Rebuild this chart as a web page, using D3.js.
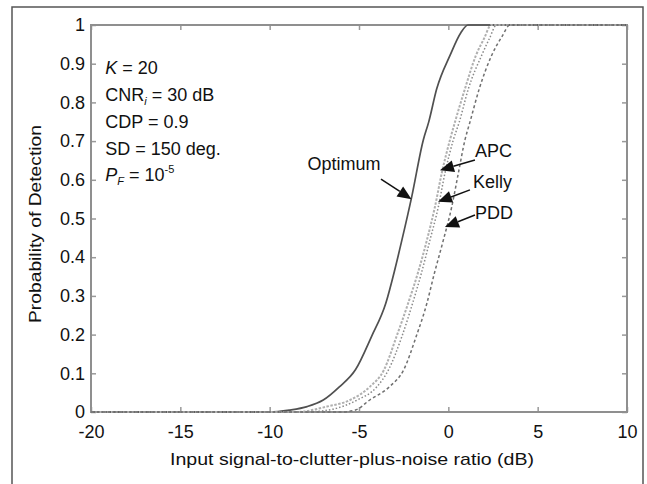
<!DOCTYPE html>
<html>
<head>
<meta charset="utf-8">
<script src="https://cdn.jsdelivr.net/npm/d3@7"></script>
<style>
  body { margin: 0; background: #fff; }
  text { font-family: "Liberation Sans", Arial, sans-serif; fill: #111; }
</style>
</head>
<body>
<div id="chart"></div>
<script>
/*******************************/
/*    Data   */
/*******************************/
const xTicks = [-20, -15, -10, -5, 0, 5, 10];
const yTicks = [0, 0.1, 0.2, 0.3, 0.4, 0.5, 0.6, 0.7, 0.8, 0.9, 1];

const optimumX = [-20, -10, -8.9, -7.9, -7.0, -6.1, -5.2, -4.3, -3.5, -3.0, -2.6, -2.05, -1.4, -1.1, -0.65, 0.1, 0.7, 1.1, 10];
const optimumP = [0, 0, 0.005, 0.014, 0.031, 0.065, 0.109, 0.195, 0.281, 0.367, 0.444, 0.556, 0.703, 0.749, 0.835, 0.922, 0.98, 1, 1];

const apcX = [-20, -8.5, -6.8, -5.5, -4.4, -3.6, -2.9, -2.25, -1.7, -1.2, -0.75, -0.37, 0.09, 0.37, 0.93, 1.55, 2.0, 2.4, 10];
const apcP = [0, 0, 0.014, 0.031, 0.065, 0.109, 0.195, 0.281, 0.36, 0.444, 0.53, 0.617, 0.703, 0.749, 0.835, 0.922, 0.965, 1, 1];

const kellyX = [-20, -8, -6.5, -5.1, -4.0, -3.35, -2.6, -2.0, -1.5, -1.03, -0.56, -0.19, 0.28, 0.61, 1.12, 1.87, 2.3, 2.7, 10];
const kellyP = [0, 0, 0.007, 0.031, 0.065, 0.109, 0.195, 0.281, 0.36, 0.444, 0.53, 0.617, 0.703, 0.749, 0.835, 0.922, 0.965, 1, 1];

const pddX = [-20, -6, -5.2, -4.4, -3.3, -2.5, -1.8, -1.2, -0.8, -0.28, 0.19, 0.56, 0.93, 1.21, 1.73, 2.43, 3.0, 3.45, 10];
const pddP = [0, 0, 0.005, 0.031, 0.065, 0.109, 0.195, 0.281, 0.355, 0.444, 0.53, 0.617, 0.703, 0.749, 0.835, 0.922, 0.97, 1, 1];

// arrow annotations (tip = point on curve, tail = end near label, in data units)
const arrowLabels = ["Optimum", "APC", "Kelly", "PDD"];
const arrowTipX = [-2.06, -0.47, -0.58, -0.19];
const arrowTipP = [0.55, 0.625, 0.543, 0.478];
const arrowTailX = [-3.77, 1.49, 1.21, 1.49];
const arrowTailP = [0.602, 0.651, 0.574, 0.509];
const labelX = [-3.8, 1.49, 1.38, 1.49];
const labelP = [0.625, 0.659, 0.579, 0.499];

// parameter block: [text, kind]
const paramLines = [
  [["K", "it"], [" = 20", ""]],
  [["CNR", ""], ["i", "sub"], [" = 30 dB", ""]],
  [["CDP = 0.9", ""]],
  [["SD = 150 deg.", ""]],
  [["P", "it"], ["F", "sub"], [" = 10", ""], ["-5", "sup"]]
];

/*******************************/
/*    Declare the constants    */
/*******************************/
const margin = {top: 25, right: 20, bottom: 72, left: 91};
const width = 647;
const height = 484;
const innerWidth = width - margin.left - margin.right;
const innerHeight = height - margin.top - margin.bottom;

/*******************************/
/*    Append the containers    */
/*******************************/
const svg = d3.select("#chart")
  .append("svg")
    .attr("width", width)
    .attr("height", height);

// outer figure frame: left, top and right sides, open where the picture ends
svg.append("path")
  .attr("d", `M12,${height} V7 H643 V${height}`)
  .attr("fill", "none")
  .attr("stroke", "#555")
  .attr("stroke-width", 1.5);

const innerChart = svg.append("g")
  .attr("transform", `translate(${margin.left}, ${margin.top})`);

/*********************************/
/*    Declare scales             */
/*********************************/
// page-coordinate scales so every mark and note lands at the same spot
const xScale = d3.scaleLinear()
  .domain([-20, 10])
  .range([margin.left, margin.left + innerWidth]);

const yScale = d3.scaleLinear()
  .domain([0, 1])
  .range([margin.top + innerHeight, margin.top]);

// scales local to the inner chart, for the axes
const xAxisScale = xScale.copy().range([0, innerWidth]);
const yAxisScale = yScale.copy().range([innerHeight, 0]);

/*********************************/
/*    Append Axes                */
/*********************************/
const tickFmt = d => String(d);

const bottomAxis = d3.axisBottom(xAxisScale)
  .tickValues(xTicks)
  .tickFormat(tickFmt)
  .tickSizeInner(-5)
  .tickSizeOuter(0)
  .tickPadding(13);
const gx = innerChart.append("g")
  .attr("transform", `translate(0, ${innerHeight})`)
  .call(bottomAxis);

const topAxis = d3.axisTop(xAxisScale)
  .tickValues(xTicks)
  .tickFormat("")
  .tickSizeInner(-5)
  .tickSizeOuter(0);
const gxt = innerChart.append("g").call(topAxis);

const leftAxis = d3.axisLeft(yAxisScale)
  .tickValues(yTicks)
  .tickFormat(tickFmt)
  .tickSizeInner(-5)
  .tickSizeOuter(0)
  .tickPadding(6);
const gy = innerChart.append("g").call(leftAxis);

const rightAxis = d3.axisRight(yAxisScale)
  .tickValues(yTicks)
  .tickFormat("")
  .tickSizeInner(-5)
  .tickSizeOuter(0);
const gyr = innerChart.append("g")
  .attr("transform", `translate(${innerWidth}, 0)`)
  .call(rightAxis);

[gx, gxt, gy, gyr].forEach(g => {
  g.attr("font-size", 18).attr("font-family", "Liberation Sans, Arial, sans-serif");
  g.select(".domain").remove();
  g.selectAll(".tick line").attr("stroke", "#999").attr("stroke-width", 1.5);
  g.selectAll(".tick text").attr("fill", "#111");
});

// plot box
innerChart.append("rect")
  .attr("width", innerWidth)
  .attr("height", innerHeight)
  .attr("fill", "none")
  .attr("stroke", "#8f8f8f")
  .attr("stroke-width", 2);

/*********************************/
/*    Curves                     */
/*********************************/
const series = [
  {id: "Optimum", x: optimumX, p: optimumP},
  {id: "APC", x: apcX, p: apcP},
  {id: "Kelly", x: kellyX, p: kellyP},
  {id: "PDD", x: pddX, p: pddP}
];
const lineStyles = {
  Optimum: {stroke: "#505050", width: 1.7, dash: null},
  APC: {stroke: "#b0b0b0", width: 2, dash: "2.5,1.5"},
  Kelly: {stroke: "#8a8a8a", width: 1.5, dash: "1.5,2"},
  PDD: {stroke: "#707070", width: 1.5, dash: "3,2.5"}
};

const lineGen = d3.line()
  .x(d => xScale(d[0]))
  .y(d => yScale(d[1]))
  .curve(d3.curveMonotoneX);

series.forEach(s => {
  const pts = s.x.map((x, i) => [x, s.p[i]]);
  const st = lineStyles[s.id];
  svg.append("path")
    .datum(pts)
    .attr("d", lineGen)
    .attr("fill", "none")
    .attr("stroke", st.stroke)
    .attr("stroke-width", st.width)
    .attr("stroke-dasharray", st.dash);
});

/*********************************/
/*    Arrow annotations          */
/*********************************/
arrowLabels.forEach((label, i) => {
  const tx = xScale(arrowTipX[i]), ty = yScale(arrowTipP[i]);
  const sx = xScale(arrowTailX[i]), sy = yScale(arrowTailP[i]);
  const len = Math.hypot(tx - sx, ty - sy);
  const ux = (tx - sx) / len, uy = (ty - sy) / len;
  const headLen = 14, headHalf = 6;
  const bx = tx - ux * headLen, by = ty - uy * headLen;

  svg.append("line")
    .attr("x1", sx).attr("y1", sy)
    .attr("x2", bx).attr("y2", by)
    .attr("stroke", "#111")
    .attr("stroke-width", 1.5);

  svg.append("polygon")
    .attr("points", [
      [tx, ty],
      [bx - uy * headHalf, by + ux * headHalf],
      [bx + uy * headHalf, by - ux * headHalf]
    ].map(p => p.join(",")).join(" "))
    .attr("fill", "#111");

  svg.append("text")
    .attr("x", xScale(labelX[i]))
    .attr("y", yScale(labelP[i]))
    .attr("text-anchor", i === 0 ? "end" : "start")
    .attr("font-size", 18)
    .text(label);
});

/*********************************/
/*    Parameter block            */
/*********************************/
const paramX = xScale(-19.2);
const paramY0 = yScale(0.873);
const lineStep = 26.8;

paramLines.forEach((segs, i) => {
  const t = svg.append("text")
    .attr("x", paramX)
    .attr("y", paramY0 + i * lineStep)
    .attr("font-size", 18);
  let shift = 0;
  segs.forEach(([str, kind]) => {
    const ts = t.append("tspan").text(str);
    let target = 0;
    if (kind === "it") ts.attr("font-style", "italic");
    if (kind === "sub") { ts.attr("font-style", "italic").attr("font-size", 11); target = 4; }
    if (kind === "sup") { ts.attr("font-size", 11); target = -8; }
    ts.attr("dy", target - shift);
    shift = target;
  });
});

/*********************************/
/*    Axis titles                */
/*********************************/
svg.append("text")
  .attr("x", 352)
  .attr("y", 465)
  .attr("text-anchor", "middle")
  .attr("font-size", 17)
  .attr("textLength", 364)
  .attr("lengthAdjust", "spacingAndGlyphs")
  .text("Input signal-to-clutter-plus-noise ratio (dB)");

svg.append("text")
  .attr("transform", `translate(41, 224) rotate(-90)`)
  .attr("text-anchor", "middle")
  .attr("font-size", 17)
  .attr("textLength", 198)
  .attr("lengthAdjust", "spacingAndGlyphs")
  .text("Probability of Detection");
</script>
</body>
</html>
